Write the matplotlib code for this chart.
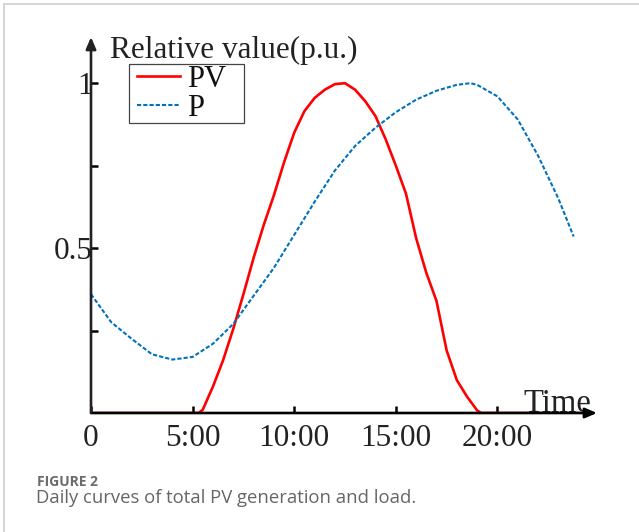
import matplotlib
matplotlib.use("Agg")
import matplotlib.pyplot as plt
from matplotlib.lines import Line2D
from matplotlib.patches import Rectangle

# hours and values
pv_hours = [0, 1, 2, 3, 4, 5, 5.3, 5.5, 6, 6.5, 7, 7.5, 8, 8.5, 9, 9.5, 10, 10.5,
            11, 11.5, 12, 12.5, 13, 13.5, 14, 14.5, 15, 15.5, 16, 16.5, 17, 17.5,
            18, 18.5, 19, 19.2, 20, 21, 22, 23, 24]
pv_vals = [0, 0, 0, 0, 0, 0, 0, 0.01, 0.08, 0.16, 0.255, 0.36, 0.47, 0.57, 0.66,
           0.76, 0.85, 0.915, 0.955, 0.98, 0.997, 1.0, 0.98, 0.945, 0.9, 0.83,
           0.75, 0.665, 0.53, 0.425, 0.34, 0.19, 0.1, 0.05, 0.008, 0, 0, 0, 0, 0, 0]

p_hours = [0, 1, 2, 3, 4, 5, 6, 7, 8, 9, 10, 11, 12, 13, 14, 15, 16, 17, 18,
           18.67, 19, 20, 21, 22, 23, 23.75]
p_vals = [0.36, 0.275, 0.225, 0.178, 0.162, 0.17, 0.21, 0.27, 0.355, 0.44, 0.54,
          0.64, 0.735, 0.81, 0.865, 0.912, 0.95, 0.977, 0.995, 1.0, 0.995, 0.96,
          0.89, 0.78, 0.65, 0.535]

x_ticks = [0, 5, 10, 15, 20]
x_labels = ["0", "5:00", "10:00", "15:00", "20:00"]
y_ticks = [0.25, 0.5, 0.75, 1]
y_labels = ["", "0.5", "", "1"]

plt.rcParams["font.family"] = ["Liberation Serif", "DejaVu Serif"]
txt = "#222222"
W, H = 639, 532

fig = plt.figure(figsize=(6.39, 5.32), dpi=100)
ax = fig.add_axes([91 / W, 1 - 413 / H, 506 / W, 376 / H])
ax.set_xlim(0, 24.9)
ax.set_ylim(0, 1.14)

ax.plot(pv_hours, pv_vals, color="#ff0000", lw=1.9, label="PV", zorder=3)
ax.plot(p_hours, p_vals, color="#0072bd", lw=1.5, ls=(0, (2, 1)), label="P", zorder=3)

for s in ax.spines.values():
    s.set_visible(False)

# axes drawn as arrows
ax.annotate("", xy=(1, 0), xytext=(0, 0), xycoords="axes fraction",
            arrowprops=dict(arrowstyle="-|>,head_length=0.7,head_width=0.3",
                            color="black", lw=1.9, shrinkA=0, shrinkB=0), zorder=4)
ax.annotate("", xy=(0, 1), xytext=(0, 0), xycoords="axes fraction",
            arrowprops=dict(arrowstyle="-|>,head_length=0.7,head_width=0.3",
                            color="#222222", lw=1.9, shrinkA=0, shrinkB=0), zorder=4)

ax.set_xticks(x_ticks)
ax.set_xticklabels(x_labels)
ax.set_yticks(y_ticks)
ax.set_yticklabels(y_labels)
ax.tick_params(axis="x", direction="in", length=5, width=1.8, pad=8,
               labelsize=22.5, labelcolor=txt)
ax.tick_params(axis="y", direction="in", length=5, width=1.8, pad=-1,
               labelsize=22.5, labelcolor=txt)

ax.text(0.94, 1.076, "Relative value(p.u.)", fontsize=22.5, color=txt,
        va="baseline", ha="left")
ax.text(21.3, 0.004, "Time", fontsize=23.5, color=txt, va="baseline", ha="left")

# legend: entries without frame, box drawn separately
leg = ax.legend(loc="upper left", bbox_to_anchor=(137 / W, 1 - 65 / H),
                bbox_transform=fig.transFigure, fontsize=22, frameon=False,
                handlelength=1.41, handletextpad=0.23, labelspacing=0.0,
                borderpad=0, borderaxespad=0)
for t in leg.get_texts():
    t.set_color("#111111")
fig.add_artist(Rectangle((128.5 / W, 1 - 123 / H), 115.5 / W, 59 / H,
                         transform=fig.transFigure, fill=False,
                         edgecolor="#444444", lw=0.9))

# caption
fig.text(37 / W, 1 - 486 / H, "FIGURE 2", fontsize=10, fontweight="bold",
         color="#6b6b6b", family="Open Sans", va="baseline")
fig.text(36 / W, 1 - 503 / H, "Daily curves of total PV generation and load.",
         fontsize=13.3, color="#666666", family="Open Sans", va="baseline")

# page border
fig.add_artist(Line2D([4 / W, 1], [1 - 4 / H, 1 - 4 / H],
                      transform=fig.transFigure, color="#d6d6d6", lw=1.5))
fig.add_artist(Line2D([4 / W, 4 / W], [0, 1 - 4 / H],
                      transform=fig.transFigure, color="#d6d6d6", lw=1.5))

fig.savefig("out.png", dpi=100)
